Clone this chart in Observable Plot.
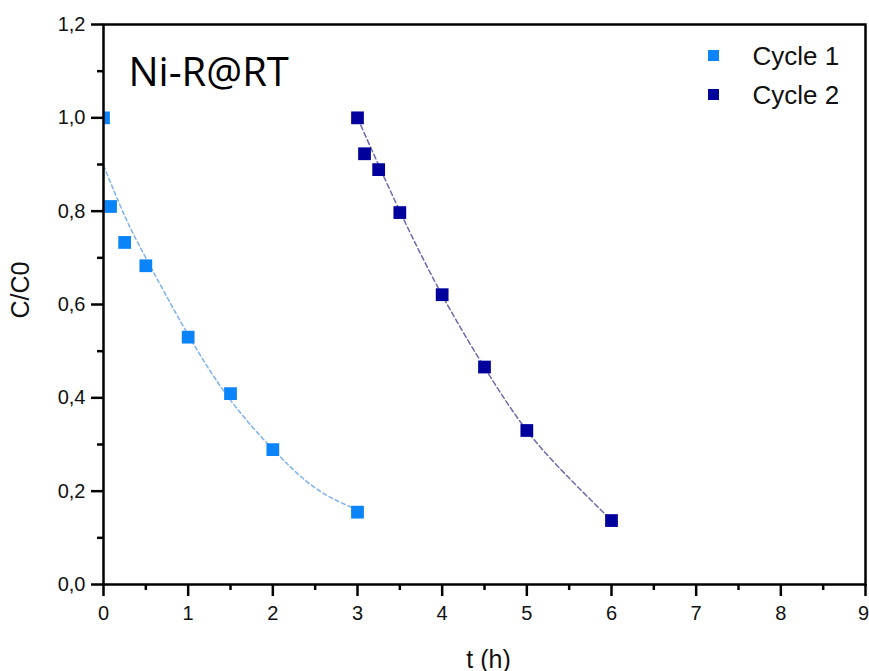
<!DOCTYPE html>
<html>
<head>
<meta charset="utf-8">
<script src="https://cdn.jsdelivr.net/npm/d3@7"></script>
<script src="https://cdn.jsdelivr.net/npm/@observablehq/plot@0.6"></script>
<style>
  html, body { margin: 0; padding: 0; background: #fff; overflow: hidden; }
</style>
</head>
<body>
<div id="chart"></div>
<script>
// Cycle 1 measured points
const t1 = [0, 0.083, 0.25, 0.5, 1.0, 1.5, 2.0, 3.0];
const c1 = [1.0, 0.81, 0.733, 0.683, 0.53, 0.409, 0.289, 0.155];
// Cycle 2 measured points
const t2 = [3.0, 3.083, 3.25, 3.5, 4.0, 4.5, 5.0, 6.0];
const c2 = [1.0, 0.923, 0.889, 0.797, 0.621, 0.466, 0.33, 0.137];
// Fitted (dashed) curves
const fitT1 = [0, 0.25, 0.5, 1.0, 1.5, 2.0, 2.5, 3.0];
const fitC1 = [0.898, 0.79, 0.70, 0.535, 0.395, 0.29, 0.207, 0.16];
const fitT2 = [3.0, 3.5, 4.0, 4.5, 5.0, 5.5, 6.0];
const fitC2 = [1.0, 0.80, 0.62, 0.465, 0.33, 0.228, 0.137];
// Axis ticks
const xMajor = [0, 1, 2, 3, 4, 5, 6, 7, 8, 9];
const xMinor = [0.5, 1.5, 2.5, 3.5, 4.5, 5.5, 6.5, 7.5, 8.5];
const yMajor = [0, 0.2, 0.4, 0.6, 0.8, 1.0, 1.2];
const yMinor = [0.1, 0.3, 0.5, 0.7, 0.9, 1.1];
const seriesNames = ["Cycle 1", "Cycle 2"];
const seriesColors = ["#0a84f8", "#00009c"];
const fitColors = ["#7db3ee", "#6a6aae"];

const d1 = t1.map((t, i) => ({t, c: c1[i]}));
const d2 = t2.map((t, i) => ({t, c: c2[i]}));
const f1 = fitT1.map((t, i) => ({t, c: fitC1[i]}));
const f2 = fitT2.map((t, i) => ({t, c: fitC2[i]}));

const font = "'Liberation Sans', Arial, sans-serif";
const fmt = d => d.toFixed(1).replace(".", ",");
const xLast = xMajor[xMajor.length - 1];
const axisColor = "#000";

const chart = Plot.plot({
  width: 869,
  height: 671,
  marginLeft: 103,
  marginRight: 4,
  marginTop: 24,
  marginBottom: 87,
  style: {fontFamily: font, background: "#fff", overflow: "hidden"},
  x: {domain: [0, 9], axis: null},
  y: {domain: [0, 1.2], axis: null},
  marks: [
    Plot.line(f1, {x: "t", y: "c", curve: "natural", stroke: fitColors[0], strokeWidth: 1.5, strokeDasharray: "4,3"}),
    Plot.line(f2, {x: "t", y: "c", curve: "natural", stroke: fitColors[1], strokeWidth: 1.5, strokeDasharray: "5,3"}),
    Plot.dot(d1, {x: "t", y: "c", symbol: "square", r: 7.2, fill: seriesColors[0], stroke: "none", clip: true}),
    Plot.dot(d2, {x: "t", y: "c", symbol: "square", r: 7.2, fill: seriesColors[1], stroke: "none", clip: true}),
    Plot.frame({stroke: axisColor, strokeWidth: 2.5}),
    // ticks (outward), drawn as tick marks with negative insets
    Plot.ruleX(xMajor, {x: d => d, y1: 0, y2: -0.0257, stroke: axisColor, strokeWidth: 2.5}),
    Plot.ruleX(xMinor, {x: d => d, y1: 0, y2: -0.0129, stroke: axisColor, strokeWidth: 2.5}),
    Plot.ruleY(yMajor, {y: d => d, x1: 0, x2: -0.142, stroke: axisColor, strokeWidth: 2.5}),
    Plot.ruleY(yMinor, {y: d => d, x1: 0, x2: -0.071, stroke: axisColor, strokeWidth: 2.5}),
    // tick labels
    Plot.text(xMajor.filter(d => d !== xLast), {x: d => d, text: d => String(d), frameAnchor: "bottom", dy: 29, fontSize: 20, fill: "#111", lineAnchor: "middle"}),
    Plot.text([xLast], {x: d => d, text: d => String(d), frameAnchor: "bottom", dx: -2, dy: 29, fontSize: 20, fill: "#111", lineAnchor: "middle"}),
    Plot.text(yMajor, {y: d => d, text: fmt, frameAnchor: "left", dx: -18, fontSize: 20, fill: "#111", textAnchor: "end", lineAnchor: "middle"}),
    // axis titles
    Plot.text(["t (h)"], {frameAnchor: "bottom", dx: 4, dy: 75, fontSize: 25, fill: "#111", lineAnchor: "middle"}),
    Plot.text(["C/C0"], {frameAnchor: "left", dx: -83, dy: 14, rotate: -90, fontSize: 25, fill: "#111", lineAnchor: "middle"}),
    // inset title
    Plot.text(["Ni-R@RT"], {frameAnchor: "top-left", dx: 25, dy: 61, fontSize: 40, fontFamily: "'Open Sans', sans-serif", fill: "#000", textAnchor: "start", lineAnchor: "bottom"}),
    // legend
    Plot.dot([seriesNames[0]], {frameAnchor: "top-right", dx: -152, dy: 31, symbol: "square", r: 6.2, fill: seriesColors[0]}),
    Plot.dot([seriesNames[1]], {frameAnchor: "top-right", dx: -152, dy: 70, symbol: "square", r: 6.2, fill: seriesColors[1]}),
    Plot.text([seriesNames[0]], {frameAnchor: "top-right", dx: -113, dy: 32, fontSize: 26, fill: "#111", textAnchor: "start", lineAnchor: "middle"}),
    Plot.text([seriesNames[1]], {frameAnchor: "top-right", dx: -113, dy: 71, fontSize: 26, fill: "#111", textAnchor: "start", lineAnchor: "middle"})
  ]
});
document.getElementById("chart").appendChild(chart);
</script>
</body>
</html>
